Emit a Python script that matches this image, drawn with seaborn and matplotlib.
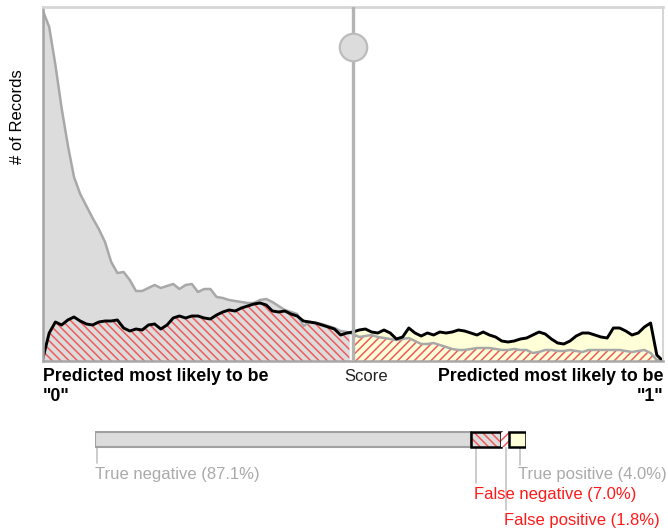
import numpy as np
import pandas as pd
import seaborn as sns
import matplotlib.pyplot as plt

# score bins (0 -> 1) and record counts per class
score = np.round(np.arange(0, 1.001, 0.01), 2)
neg_records = [350, 334, 296, 253, 216, 184, 167, 155, 143, 132,
               119, 99, 88, 89, 81, 70, 70, 73, 76, 73,
               75, 77, 72, 76, 77, 69, 72, 72, 64, 63,
               61, 60, 59, 58, 58, 61, 62, 59, 55, 51,
               49, 47, 35, 39, 38, 37, 35, 33, 30, 29,
               27, 24, 25, 26, 24, 23, 22, 21, 22, 23,
               20, 17, 17, 18, 16, 14, 12, 11, 11, 12,
               13, 13, 13, 12, 11, 11, 12, 11, 11, 8,
               9, 11, 11, 10, 10, 11, 10, 9, 11, 11,
               11, 11, 11, 11, 10, 9, 10, 11, 8, 1, 0]
pos_records = [3, 28, 39, 36, 41, 44, 40, 37, 36, 39,
               40, 40, 41, 33, 30, 32, 31, 36, 37, 32,
               36, 43, 45, 43, 45, 45, 43, 42, 46, 49,
               51, 50, 53, 55, 57, 58, 56, 50, 49, 50,
               47, 45, 40, 39, 38, 36, 34, 32, 26, 28,
               29, 31, 32, 29, 28, 31, 28, 22, 24, 33,
               28, 25, 28, 26, 29, 28, 29, 31, 30, 28,
               26, 29, 26, 24, 20, 19, 20, 22, 23, 26,
               29, 27, 22, 18, 17, 20, 25, 28, 28, 26,
               24, 23, 33, 33, 30, 26, 28, 34, 38, 6, 0]
threshold = 0.5

outcome_names = ['True negative', 'False negative', 'False positive', 'True positive']
outcome_pct = [87.1, 7.0, 1.8, 4.0]

GRAY_FILL = '#dcdcdc'
HATCH_RED = '#f05a5a'
YELLOW = '#ffffd8'

sns.set_style('white')
plt.rcParams['font.family'] = ['Liberation Sans', 'DejaVu Sans']
plt.rcParams['hatch.linewidth'] = 1.1
plt.rcParams['text.color'] = 'black'

df = pd.DataFrame({'score': score, 'neg': neg_records, 'pos': pos_records})


def clip(x, y, lo, hi):
    xs = np.concatenate([[lo], x[(x > lo) & (x < hi)], [hi]])
    return xs, np.interp(xs, x, y)


fig = plt.figure(figsize=(6.68, 5.29), dpi=100)
ax = fig.add_axes([43 / 668, 168 / 529, 620 / 668, 354 / 529])

# predicted "0" side
xl, nl = clip(df.score.values, df.neg.values, 0, threshold - 0.006)
_, pl = clip(df.score.values, df.pos.values, 0, threshold - 0.006)
ax.fill_between(xl, 0, nl, color=GRAY_FILL, lw=0)
ax.fill_between(xl, 0, pl, facecolor='none', edgecolor=HATCH_RED, hatch='\\\\\\\\', lw=0)

# predicted "1" side
xr, nr = clip(df.score.values, df.neg.values, threshold + 0.002, 1)
_, pr = clip(df.score.values, df.pos.values, threshold + 0.002, 1)
ax.fill_between(xr, 0, pr, color=YELLOW, lw=0)
ax.fill_between(xr, 0, nr, facecolor='none', edgecolor=HATCH_RED, hatch='////', lw=0)

sns.lineplot(data=df, x='score', y='neg', ax=ax, color='#a8a8a8', lw=1.8)
sns.lineplot(data=df, x='score', y='pos', ax=ax, color='black', lw=2.1)

ax.axvline(threshold, color='#b4b4b4', lw=2.4, zorder=4)
ax.scatter([threshold], [314], s=390, color=GRAY_FILL, edgecolor='#bcbcbc',
           linewidth=1.6, zorder=5, clip_on=False)

ax.set_xlim(0, 1)
ax.set_ylim(0, 354)
ax.set(xlabel='', ylabel='', xticks=[], yticks=[])
for side, col, w in [('top', '#d6d6d6', 2), ('right', '#d6d6d6', 1.5),
                     ('left', '#a4a4a4', 1.8), ('bottom', '#a8a8a8', 1.8)]:
    ax.spines[side].set_color(col)
    ax.spines[side].set_linewidth(w)

fig.text(18 / 668, 1 - 117 / 529, '# of Records', rotation=90, ha='center', va='center', fontsize=12)
fig.text(43 / 668, 1 - 368 / 529, 'Predicted most likely to be\n"0"', ha='left', va='top',
         fontsize=12.8, fontweight='bold', linespacing=1.25)
fig.text(366 / 668, 1 - 369 / 529, 'Score', ha='center', va='top', fontsize=12, color='#222222')
fig.text(663 / 668, 1 - 368 / 529, 'Predicted most likely to be\n"1"', ha='right', va='top',
         multialignment='right', fontsize=12.8, fontweight='bold', linespacing=1.25)

# confusion summary bar
ax2 = fig.add_axes([95 / 668, 0, 431 / 668, 98 / 529])
ax2.set_xlim(0, sum(outcome_pct))
ax2.set_ylim(98, 0)
ax2.axis('off')

lefts = np.concatenate([[0], np.cumsum(outcome_pct)[:-1]])
ax2.barh(8, outcome_pct[0], left=lefts[0], height=15, color=GRAY_FILL, edgecolor='#a0a0a0', lw=1.5)
ax2.barh(8, outcome_pct[1], left=lefts[1], height=15, color=GRAY_FILL, edgecolor=HATCH_RED,
         hatch='\\\\\\\\', lw=0)
ax2.barh(8, outcome_pct[1], left=lefts[1], height=15, facecolor='none', edgecolor='black', lw=1.8)
ax2.barh(8, outcome_pct[2], left=lefts[2], height=15, color='white', edgecolor=HATCH_RED, hatch='////', lw=0)
ax2.barh(8, outcome_pct[3], left=lefts[3], height=15, color=YELLOW, edgecolor='black', lw=1.8)

tick_frac = [0.005, 0.17, 0.6, 0.65]
tick_end = [32, 52, 79, 34]
label_y = [44, 64, 89, 44]
label_col = ['#aaaaaa', '#ff1a1a', '#ff1a1a', '#aaaaaa']
for name, pct, lo, fr, te, ly, c in zip(outcome_names, outcome_pct, lefts, tick_frac,
                                        tick_end, label_y, label_col):
    tx = lo + fr * pct
    ax2.plot([tx, tx], [16, te], color='#c4c4c4', lw=1.2, clip_on=False, zorder=0)
    ax2.text(tx - 0.4, ly, f'{name} ({pct:.1f}%)', ha='left', va='center', fontsize=12,
             color=c, zorder=3)

fig.savefig('out.png', dpi=100)
